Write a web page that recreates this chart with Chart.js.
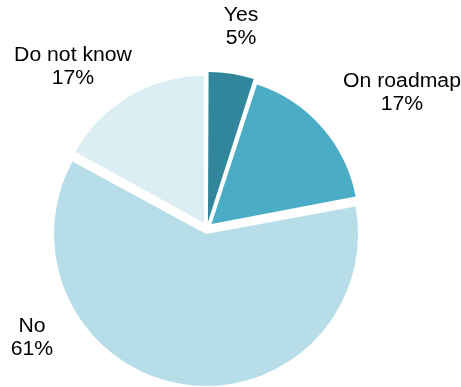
<!DOCTYPE html>
<html>
<head>
<meta charset="utf-8">
<script src="https://cdn.jsdelivr.net/npm/chart.js@4/dist/chart.umd.min.js"></script>
<style>
  html, body { margin: 0; padding: 0; background: #ffffff; }
  #wrap { width: 461px; height: 387px; position: relative; }
</style>
</head>
<body>
<div id="wrap"><canvas id="c" width="461" height="387"></canvas></div>
<script>
// Survey answers, clockwise from 12 o'clock
const categories = ['Yes', 'On roadmap', 'No', 'Do not know'];
const shares = [5, 17, 61, 17];
const sliceColors = ['#31869B', '#4BACC6', '#B7DEE8', '#DAEEF3'];

// Where each two-line label sits (centre of the text block)
const labelAnchors = [
  { x: 241, y: 27 },
  { x: 402, y: 93 },
  { x: 32, y: 338 },
  { x: 73, y: 67 }
];

const labelPlugin = {
  id: 'sliceLabels',
  afterDatasetsDraw(chart) {
    const ctx = chart.ctx;
    const data = chart.data.datasets[0].data;
    ctx.save();
    ctx.font = '20px "Liberation Sans", Arial, sans-serif';
    ctx.fillStyle = '#000000';
    ctx.textAlign = 'center';
    ctx.textBaseline = 'middle';
    chart.data.labels.forEach((name, i) => {
      const a = labelAnchors[i];
      ctx.save();
      ctx.translate(a.x, a.y);
      ctx.scale(1.06, 1);
      ctx.fillText(name, 0, -11.5);
      ctx.fillText(data[i] + '%', 0, 11.5);
      ctx.restore();
    });
    ctx.restore();
  }
};

new Chart(document.getElementById('c'), {
  type: 'pie',
  data: {
    labels: categories,
    datasets: [{
      data: shares,
      backgroundColor: sliceColors,
      borderColor: '#ffffff',
      borderWidth: 0,
      // arcs shift and grow by a quarter of this value: 24 -> 6px explode
      offset: 24,
      hoverOffset: 24
    }]
  },
  options: {
    responsive: false,
    animation: false,
    radius: 146,
    layout: { padding: { top: 73, bottom: 4, left: 52, right: 99 } },
    plugins: {
      legend: { display: false },
      tooltip: { enabled: false }
    }
  },
  plugins: [labelPlugin]
});
</script>
</body>
</html>
